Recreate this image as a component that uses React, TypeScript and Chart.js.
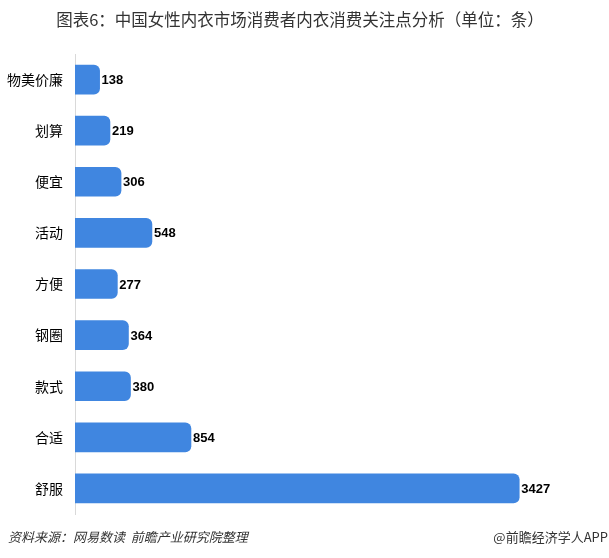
import React, { useEffect, useRef } from "react";
import { Chart, registerables } from "chart.js";

Chart.register(...registerables);

const titleText = "图表6：中国女性内衣市场消费者内衣消费关注点分析（单位：条）";
const categories = ["物美价廉", "划算", "便宜", "活动", "方便", "钢圈", "款式", "合适", "舒服"];
const values = [138, 219, 306, 548, 277, 364, 380, 854, 3427];
const sourceText = "资料来源：网易数读  前瞻产业研究院整理";
const brandText = "@前瞻经济学人APP";

const BAR_COLOR = "#4086E0";
const AXIS_MIN = -55;
const AXIS_MAX = 4060;

const textPlugin = {
  id: "customTexts",
  afterDatasetsDraw(chart: any) {
    const ctx = chart.ctx;
    const meta = chart.getDatasetMeta(0);
    ctx.save();
    ctx.font = "bold 13px 'Liberation Sans', Arial, sans-serif";
    ctx.fillStyle = "#000";
    ctx.textAlign = "left";
    ctx.textBaseline = "middle";
    meta.data.forEach((el: any, i: number) => {
      const v = chart.data.datasets[0].data[i];
      ctx.fillText(String(v), el.x + 2, el.y + 1);
    });
    ctx.restore();
  },
  afterDraw(chart: any) {
    const ctx = chart.ctx;
    const w = chart.width;
    ctx.save();
    ctx.fillStyle = "#333";
    ctx.textBaseline = "middle";
    ctx.font = "italic 13px 'Noto Sans CJK SC', sans-serif";
    ctx.textAlign = "left";
    ctx.fillText(sourceText, 8, 537);
    ctx.font = "13px 'Noto Sans CJK SC', sans-serif";
    ctx.textAlign = "right";
    ctx.fillText(brandText, w - 1, 537);
    ctx.restore();
  },
};

export default function App() {
  const ref = useRef<HTMLCanvasElement | null>(null);
  useEffect(() => {
    if (!ref.current) return;
    const chart = new Chart(ref.current, {
      type: "bar",
      data: {
        labels: categories,
        datasets: [
          {
            data: values,
            base: AXIS_MIN,
            backgroundColor: BAR_COLOR,
            barThickness: 29,
            borderRadius: 6,
            borderSkipped: "start",
          } as any,
        ],
      },
      options: {
        indexAxis: "y",
        animation: false,
        responsive: false,
        maintainAspectRatio: false,
        layout: { padding: { left: 0, right: 9, top: 0, bottom: 44 } },
        plugins: {
          legend: { display: false },
          tooltip: { enabled: false },
          title: {
            display: true,
            text: titleText,
            color: "#333",
            font: { size: 16.5, family: "'Noto Sans CJK SC', sans-serif", weight: "normal", lineHeight: 1.2 },
            padding: { top: 10, bottom: 24.2 },
          },
        },
        scales: {
          x: { display: false, min: AXIS_MIN, max: AXIS_MAX },
          y: {
            grid: { display: false, drawTicks: false },
            border: { display: true, color: "#d9d9d9", width: 1 },
            ticks: {
              color: "#000",
              padding: 12,
              font: { size: 14, family: "'Noto Sans CJK SC', sans-serif" },
            },
            afterFit(scale: any) {
              scale.width = 75;
            },
          },
        },
      },
      plugins: [textPlugin],
    });
    return () => chart.destroy();
  }, []);
  return (
    <div style={{ position: "absolute", left: 0, top: 0, width: 609, height: 558, background: "#fff" }}>
      <canvas ref={ref} width={609} height={558} style={{ width: 609, height: 558 }} />
    </div>
  );
}
